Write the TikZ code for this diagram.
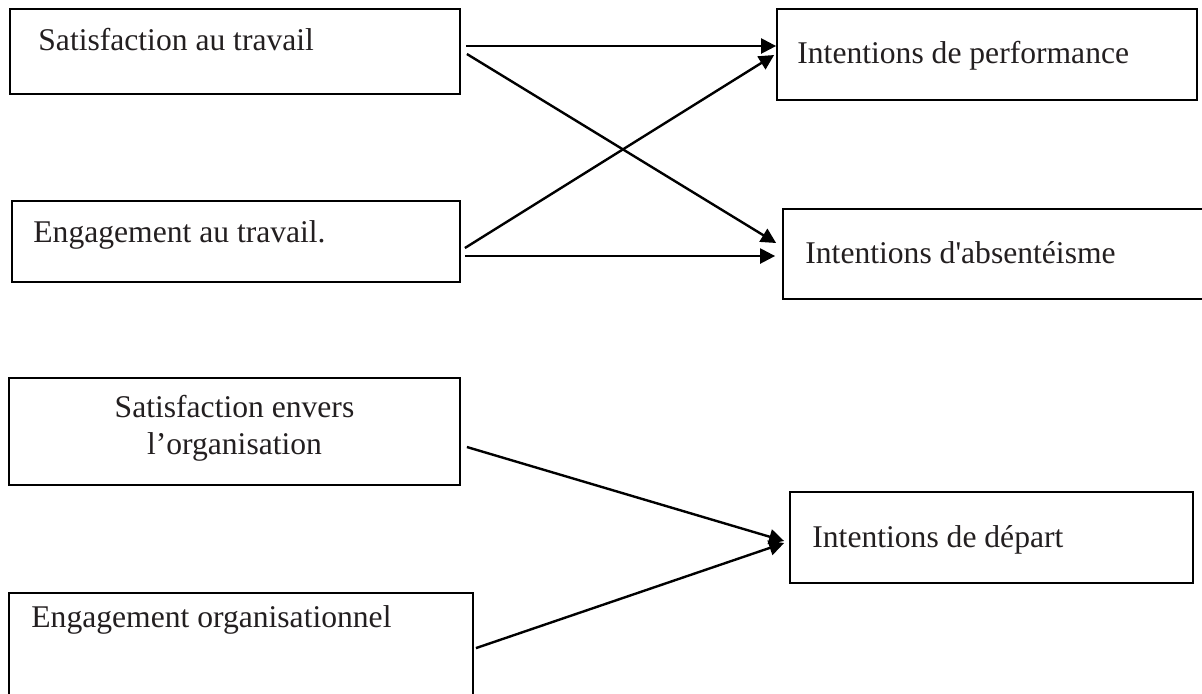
\documentclass[tikz,border=0pt]{standalone}
\usepackage{fontspec}
\setmainfont{Liberation Serif}[Ligatures=TeXOff]
\usetikzlibrary{arrows.meta,calc}
\definecolor{ink}{HTML}{231F20}
\tikzset{
  box/.style={draw=black, line width=0.9pt, rectangle, inner sep=0pt},
  lbl/.style={text=ink, font=\fontsize{15.8}{18.5}\selectfont, inner sep=0pt},
  conn/.style={line width=1.2pt, -{Triangle[length=7.5pt,width=7.5pt]}}
}
\begin{document}
\begin{tikzpicture}[x=0.5pt,y=-0.5pt]
\useasboundingbox (0,0) rectangle (1202,693);
\clip (0,0) rectangle (1202,693);
\fill[white] (0,0) rectangle (1202,693);
% left boxes
\node[box, minimum width=225pt, minimum height=42.5pt] (b1) at (235,51.5) {};
\node[box, minimum width=224pt, minimum height=40.5pt] (b2) at (236,241.5) {};
\node[box, minimum width=225.5pt, minimum height=53.5pt] (b3) at (234.5,431.5) {};
\node[box, minimum width=232pt, minimum height=63.5pt] (b4) at (241,656.5) {};
% right boxes
\node[box, minimum width=210pt, minimum height=45.5pt] (r1) at (987,54.5) {};
\node[box, minimum width=223.5pt, minimum height=45pt] (r2) at (1006.5,254) {};
\node[box, minimum width=201.5pt, minimum height=45.5pt] (r3) at (991.5,537.5) {};
% labels
\node[lbl, anchor=base west] (t1) at (38,50) {Satisfaction au travail};
\node[lbl, anchor=base west] (t2) at (33,242) {Engagement au travail.};
\node[lbl, align=center, anchor=center] (t3) at (234.5,428) {Satisfaction envers\\l’organisation};
\node[lbl, anchor=base west] (t4) at (31,627) {Engagement organisationnel};
\node[lbl, anchor=base west] (u1) at (797,63) {Intentions de performance};
\node[lbl, anchor=base west] (u2) at (805,263) {Intentions d'absentéisme};
\node[lbl, anchor=base west] (u3) at (812,547) {Intentions de départ};
% connectors
\draw[conn] ($(b1.east)+(5,-5.5)$) -- ($(r1.west)+(0,-8.5)$);
\draw[conn] ($(b1.east)+(6,2.5)$) -- ($(r2.west)+(-6,-11)$);
\draw[conn] ($(b2.east)+(4,6.5)$) -- ($(r1.west)+(-2,0.5)$);
\draw[conn] ($(b2.east)+(4,14.5)$) -- ($(r2.west)+(-7,2)$);
\draw[conn] ($(b3.east)+(6,15.5)$) -- ($(r3.west)+(-5,3.5)$);
\draw[conn] ($(b4.north east)+(2,56)$) -- ($(r3.west)+(-5,5.5)$);
\end{tikzpicture}
\end{document}
